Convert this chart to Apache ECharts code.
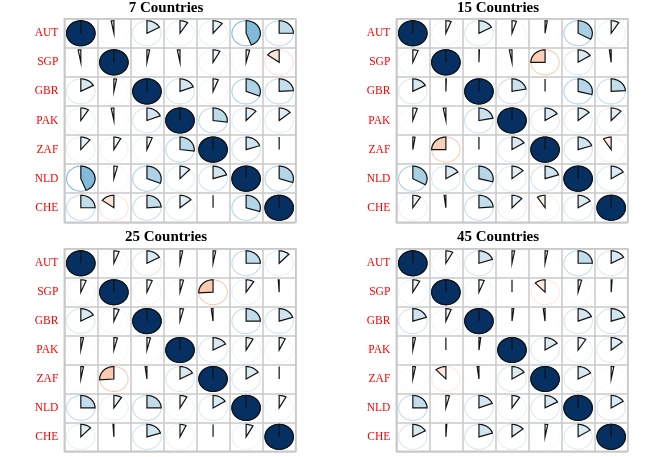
<!DOCTYPE html>
<html>
<head>
<meta charset="utf-8">
<script src="https://cdn.jsdelivr.net/npm/echarts@6/dist/echarts.min.js"></script>
<style>
  html, body { margin: 0; padding: 0; background: #fff; }
  #chart { width: 664px; height: 457px; }
</style>
</head>
<body>
<div id="chart"></div>
<script>
// 国家（行列顺序相同）
const countries = ['AUT', 'SGP', 'GBR', 'PAK', 'ZAF', 'NLD', 'CHE'];
const panelTitles = ['7 Countries', '15 Countries', '25 Countries', '45 Countries'];

// 相关系数矩阵（对称）
const corr7 = [
  [1, -0.03, 0.17, 0.09, 0.11, 0.44, 0.25],
  [-0.03, 1, 0.03, -0.03, 0.08, 0.04, -0.15],
  [0.17, 0.03, 1, 0.19, 0.06, 0.31, 0.24],
  [0.09, -0.03, 0.19, 1, 0.27, 0.12, 0.14],
  [0.11, 0.08, 0.06, 0.27, 1, 0.2, 0.0],
  [0.44, 0.04, 0.31, 0.12, 0.2, 1, 0.3],
  [0.25, -0.15, 0.24, 0.14, 0.0, 0.3, 1]
];
const corr15 = [
  [1, 0.06, 0.17, 0.05, 0.025, 0.33, 0.09],
  [0.06, 1, 0.005, -0.03, -0.25, 0.16, -0.02],
  [0.17, 0.005, 1, 0.22, 0.0, 0.29, 0.24],
  [0.05, -0.03, 0.22, 1, 0.16, 0.14, 0.12],
  [0.025, -0.25, 0.0, 0.16, 1, 0.2, -0.09],
  [0.33, 0.16, 0.29, 0.14, 0.2, 1, 0.16],
  [0.09, -0.02, 0.24, 0.12, -0.09, 0.16, 1]
];
const corr25 = [
  [1, 0.06, 0.17, 0.03, 0.03, 0.25, 0.12],
  [0.06, 1, 0.06, 0.04, -0.26, 0.09, -0.01],
  [0.17, 0.06, 1, 0.04, -0.02, 0.25, 0.2],
  [0.03, 0.04, 0.04, 1, 0.17, 0.08, 0.07],
  [0.03, -0.26, -0.02, 0.17, 1, 0.16, 0.0],
  [0.25, 0.09, 0.25, 0.08, 0.16, 1, 0.08],
  [0.12, -0.01, 0.2, 0.07, 0.0, 0.08, 1]
];
const corr45 = [
  [1, 0.08, 0.2, 0.03, 0.03, 0.25, 0.17],
  [0.08, 1, 0.06, 0.0, -0.12, 0.04, 0.01],
  [0.2, 0.06, 1, 0.02, -0.02, 0.19, 0.2],
  [0.03, 0.0, 0.02, 1, 0.16, 0.09, 0.14],
  [0.03, -0.12, -0.02, 0.16, 1, 0.17, 0.03],
  [0.25, 0.04, 0.19, 0.09, 0.17, 1, 0.16],
  [0.17, 0.01, 0.2, 0.14, 0.03, 0.16, 1]
];
const matrices = [corr7, corr15, corr25, corr45];

// RdBu 色板，-1 到 1
const palette = ['#67001F', '#B2182B', '#D6604D', '#F4A582', '#FDDBC7', '#FFFFFF',
  '#D1E5F0', '#92C5DE', '#4393C3', '#2166AC', '#053061'];

function hexToRgb(h) {
  return [parseInt(h.slice(1, 3), 16), parseInt(h.slice(3, 5), 16), parseInt(h.slice(5, 7), 16)];
}

function corrColor(r) {
  const p = (Math.max(-1, Math.min(1, r)) + 1) / 2 * (palette.length - 1);
  const i = Math.min(palette.length - 2, Math.floor(p));
  const f = p - i;
  const a = hexToRgb(palette[i]), b = hexToRgb(palette[i + 1]);
  const c = a.map((v, k) => Math.round(v + (b[k] - v) * f));
  return 'rgb(' + c.join(',') + ')';
}

// 面板位置
const gridBoxes = [
  { left: 64.3, top: 18.7, width: 231.4, height: 203.6 },
  { left: 396.3, top: 18.7, width: 231.4, height: 203.6 },
  { left: 64.3, top: 248.8, width: 231.4, height: 202.5 },
  { left: 396.3, top: 248.8, width: 231.4, height: 202.5 }
];
const titleCenters = [[166, 1], [498, 1], [166, 230], [498, 230]];

const gridColor = '#c9c9c9';

// 绘制饼图单元
const renderPie = (params, api) => {
  const x = api.value(0), y = api.value(1), r = api.value(2);
  const c = api.coord([x, y]);
  const s = api.size([1, 1]);
  const rx = s[0] * 0.43, ry = s[1] * 0.43;
  const col = corrColor(r);

  // 外圈
  const ring = [];
  for (let i = 0; i < 72; i++) {
    const t = i / 72 * 2 * Math.PI;
    ring.push([c[0] + rx * Math.sin(t), c[1] - ry * Math.cos(t)]);
  }

  // 扇形：正值顺时针，负值逆时针
  const sign = r < 0 ? -1 : 1;
  const span = Math.abs(r) * 2 * Math.PI;
  const n = Math.max(2, Math.ceil(Math.abs(r) * 90));
  const pts = [[c[0], c[1]]];
  for (let i = 0; i <= n; i++) {
    const t = span * i / n;
    pts.push([c[0] + sign * rx * Math.sin(t), c[1] - ry * Math.cos(t)]);
  }

  return {
    type: 'group',
    children: [
      { type: 'polygon', shape: { points: ring }, style: { fill: null, stroke: col, lineWidth: 1.1 } },
      { type: 'polygon', shape: { points: pts }, style: { fill: col, stroke: '#111', lineWidth: 1.2, lineJoin: 'miter' } }
    ]
  };
};

const chart = echarts.init(document.getElementById('chart'));

const grid = gridBoxes.map(b => Object.assign({
  show: true,
  borderColor: gridColor,
  borderWidth: 1.5,
  backgroundColor: 'transparent'
}, b));

const xAxis = gridBoxes.map((b, i) => ({
  type: 'category',
  gridIndex: i,
  data: countries,
  position: 'top',
  axisLine: { show: false },
  axisTick: { show: false },
  axisLabel: { show: false },
  splitLine: { show: true, interval: 0, lineStyle: { color: gridColor, width: 1.5 } }
}));

const yAxis = gridBoxes.map((b, i) => ({
  type: 'category',
  gridIndex: i,
  data: countries,
  inverse: true,
  axisLine: { show: false },
  axisTick: { show: false },
  axisLabel: {
    color: '#ff0000',
    fontFamily: 'Liberation Serif',
    fontSize: 11.5,
    margin: 6
  },
  splitLine: { show: true, interval: 0, lineStyle: { color: gridColor, width: 1.5 } }
}));

const series = matrices.map((m, i) => {
  const data = [];
  m.forEach((row, yi) => row.forEach((v, xi) => data.push([xi, yi, v])));
  return {
    type: 'custom',
    xAxisIndex: i,
    yAxisIndex: i,
    renderItem: renderPie,
    data: data,
    silent: true
  };
});

const title = panelTitles.map((t, i) => ({
  text: t,
  left: titleCenters[i][0],
  top: titleCenters[i][1],
  padding: 0,
  textAlign: 'center',
  textStyle: {
    fontFamily: 'Liberation Serif',
    fontWeight: 'bold',
    fontSize: 15,
    color: '#000'
  }
}));

chart.setOption({
  animation: false,
  title: title,
  grid: grid,
  xAxis: xAxis,
  yAxis: yAxis,
  series: series
});
</script>
</body>
</html>
